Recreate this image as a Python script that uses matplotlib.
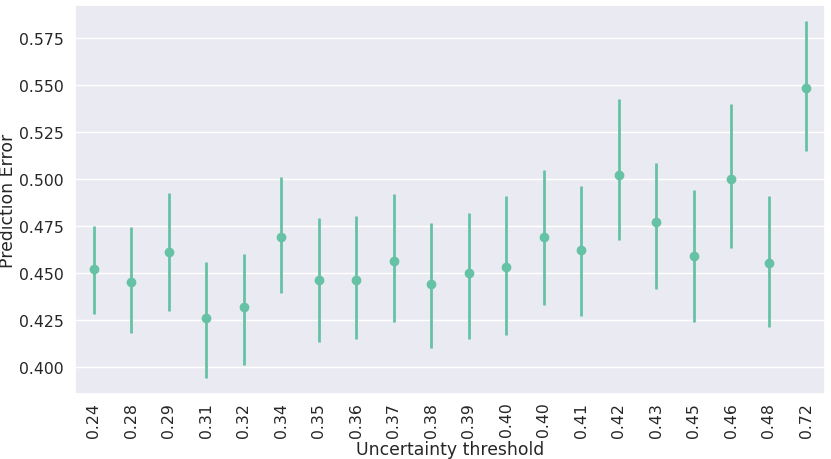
import matplotlib
matplotlib.use("Agg")
import matplotlib.pyplot as plt
import numpy as np
import seaborn as sns

# uncertainty thresholds (categorical, 0.40 appears twice)
thresholds = ['0.24', '0.28', '0.29', '0.31', '0.32', '0.34', '0.35', '0.36', '0.37', '0.38',
              '0.39', '0.40', '0.40', '0.41', '0.42', '0.43', '0.45', '0.46', '0.48', '0.72']
meanError = [0.452, 0.445, 0.461, 0.426, 0.432, 0.469, 0.446, 0.446, 0.456, 0.444,
             0.450, 0.453, 0.469, 0.462, 0.502, 0.477, 0.459, 0.500, 0.455, 0.548]
lowerCI = [0.428, 0.418, 0.4295, 0.394, 0.401, 0.439, 0.413, 0.415, 0.4236, 0.410,
           0.415, 0.417, 0.433, 0.427, 0.4676, 0.4415, 0.424, 0.463, 0.421, 0.5147]
upperCI = [0.475, 0.4743, 0.4926, 0.4555, 0.460, 0.501, 0.4793, 0.4803, 0.492, 0.4763,
           0.482, 0.4906, 0.5045, 0.4963, 0.5424, 0.5084, 0.4938, 0.5399, 0.4906, 0.5839]

sns.set_theme(style='darkgrid')
plt.rcParams['font.family'] = ['DejaVu Sans']
color = sns.color_palette('Set2')[0]

fig = plt.figure(figsize=(8.31, 4.6), dpi=100)
ax = fig.add_axes([0.0903, 0.1413, 0.9025, 0.8457])

xPos = np.arange(len(thresholds))
ax.vlines(xPos, lowerCI, upperCI, color=color, linewidth=2.0, zorder=2)
ax.plot(xPos, meanError, 'o', color=color, markersize=6, zorder=3)

ax.set_xticks(xPos)
ax.set_xticklabels(thresholds, rotation=90, fontsize=11.3)
ax.tick_params(axis='x', length=0, pad=5.5)
ax.tick_params(axis='y', length=0, pad=8)
ax.set_xlim(-0.5, len(thresholds) - 0.5)
ax.set_ylim(0.3855, 0.5924)
ax.set_yticks([0.400, 0.425, 0.450, 0.475, 0.500, 0.525, 0.550, 0.575])
ax.set_yticklabels(['%.3f' % v for v in ax.get_yticks()], fontsize=11.3)
ax.grid(axis='x', visible=False)
ax.set_xlabel('Uncertainty threshold', fontsize=12.4)
ax.xaxis.set_label_coords(0.5, -0.118)
ax.set_ylabel('Prediction Error', fontsize=12.4)
ax.yaxis.set_label_coords(-0.0775, 0.5)

plt.savefig('out.png', dpi=100)
